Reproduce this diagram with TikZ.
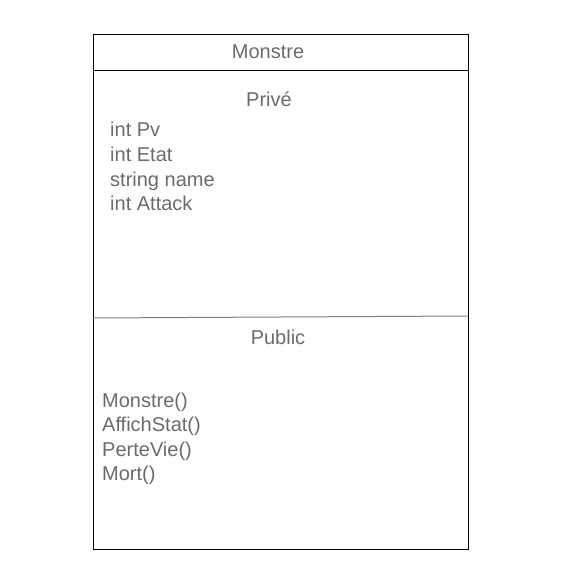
\documentclass[tikz,border=0pt]{standalone}
\usepackage{fontspec}
\setmainfont{Liberation Sans}
\usepackage{xcolor}
\usetikzlibrary{calc}
\colorlet{txtgray}{black!58}
\colorlet{divgray}{black!50}
\tikzstyle{lbl}=[text=txtgray,font=\fontsize{20}{24}\selectfont,inner sep=0pt]
\tikzstyle{entry}=[lbl,anchor=base west]
\tikzstyle{frame}=[line width=1pt,draw=black]
\begin{document}
\begin{tikzpicture}[x=1pt,y=-1pt]
	\useasboundingbox (0,0) rectangle (585,577);
	\draw[frame] (93,35) rectangle (468,549);
	\draw[frame] (93,71) -- (468,71);
	\draw[line width=1pt,divgray] (93,318) -- (468,316);
	\node[lbl] (title) at (268,52) {Monstre};
	\node[lbl] (prive) at (269,99) {Privé};
	\node[lbl] (public) at (278,337) {Public};
	\node[entry] (pv) at (110,137) {int Pv};
	\node[entry] (etat) at (110,161.5) {int Etat};
	\node[entry] (name) at (110,186) {string name};
	\node[entry] (attack) at (110,210.5) {int Attack};
	\node[entry] (ctor) at (102,407) {Monstre()};
	\node[entry] (affich) at (102,431.5) {AffichStat()};
	\node[entry] (perte) at (102,456) {PerteVie()};
	\node[entry] (mort) at (102,480.5) {Mort()};
\end{tikzpicture}
\end{document}
